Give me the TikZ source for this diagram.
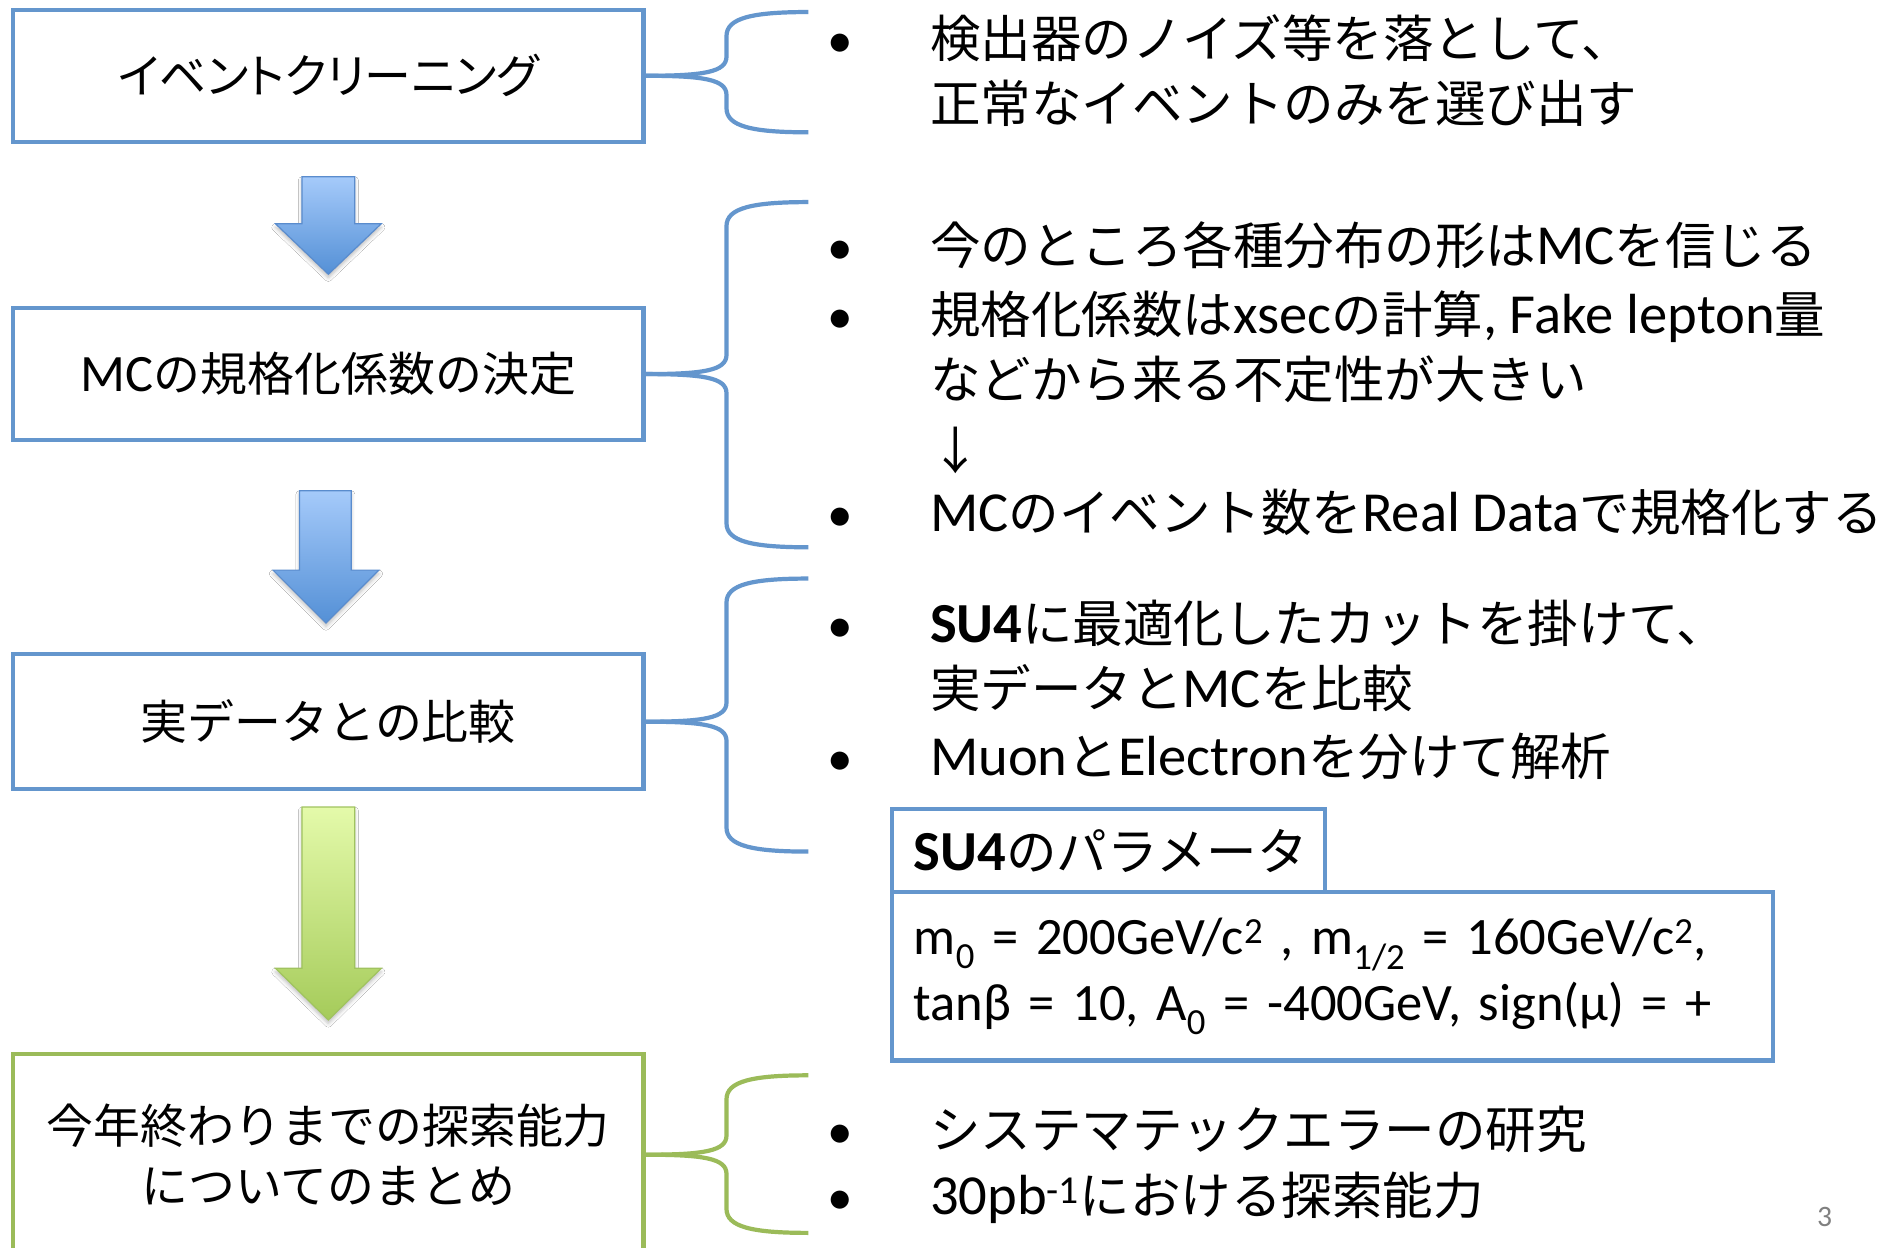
\documentclass[tikz,border=0pt]{standalone}
\usepackage{fontspec}
\setmainfont{Noto Sans CJK JP}
\newfontfamily\cjkp[RawFeature=+palt]{Noto Sans CJK JP}
\newfontfamily\lt[Scale=1.12]{Carlito}
\usetikzlibrary{shadows.blur}
\definecolor{bl}{RGB}{100,150,205}
\definecolor{gr}{RGB}{155,187,89}
\definecolor{arTop}{RGB}{165,202,250}
\definecolor{arBot}{RGB}{84,144,214}
\definecolor{arEdge}{RGB}{90,140,205}
\definecolor{grTop}{RGB}{228,250,170}
\definecolor{grBot}{RGB}{165,203,90}
\definecolor{grEdge}{RGB}{160,195,95}
\tikzset{
  box/.style={draw=bl, line width=3.5pt, minimum width=524pt, minimum height=110pt, inner sep=0pt, font=\fontsize{39}{50}\selectfont},
  txt/.style={anchor=west, inner sep=0pt, text height=36pt, text depth=6pt, font=\fontsize{42}{54}\selectfont},
  bul/.style={txt, font=\lt\fontsize{38}{54}\selectfont},
  pbox/.style={draw=bl, line width=3.5pt, anchor=north west, inner xsep=18pt, inner ysep=0pt, align=left},
  brc/.style={line width=3.5pt},
  blarrow/.style={top color=arTop, bottom color=arBot, draw=arEdge, line width=1pt,
     blur shadow={shadow blur radius=3pt, shadow xshift=0pt, shadow yshift=-3pt, shadow opacity=25}},
  grarrow/.style={top color=grTop, bottom color=grBot, draw=grEdge, line width=1pt,
     blur shadow={shadow blur radius=3pt, shadow xshift=0pt, shadow yshift=-3pt, shadow opacity=25}}
}
\newcommand\brc[5]{%
  \draw[brc, #5] (#1.east) .. controls (585,#2) and (604,#2-3) .. (604,#2-16) -- (604,#3+20) .. controls (604,#3+5) and (625,#3) .. (672,#3);
  \draw[brc, #5] (#1.east) .. controls (585,#2) and (604,#2+3) .. (604,#2+16) -- (604,#4-20) .. controls (604,#4-5) and (625,#4) .. (672,#4);}
\begin{document}
\begin{tikzpicture}[x=1pt,y=-1pt]
\useasboundingbox[fill=white] (0,0) rectangle (1568,1037);
\clip (0,0) rectangle (1568,1037);
% left column boxes
\node[box] (b1) at (273,63) {\cjkp イベントクリーニング};
\node[box] (b2) at (273,311) {{\lt MC}の規格化係数の決定};
\node[box, minimum height=112pt] (b3) at (273,600) {実データとの比較};
\node[box, draw=gr, minimum height=168pt, align=center] (b4) at (273,960) {今年終わりまでの探索能力\\についてのまとめ};
% block arrows
\shade[blarrow] (251,147) -- (295,147) -- (295,186) -- (317,186) -- (273,228) -- (229,186) -- (251,186) -- cycle;
\shade[blarrow] (249,408) -- (292,408) -- (292,474) -- (315,474) -- (271,518) -- (227,474) -- (249,474) -- cycle;
\shade[grarrow] (251,671) -- (295,671) -- (295,805) -- (317,805) -- (273,848) -- (229,805) -- (251,805) -- cycle;
% braces
\brc{b1}{63}{10}{110}{bl}
\brc{b2}{311}{168}{455}{bl}
\brc{b3}{600}{481}{708}{bl}
\brc{b4}{960}{894}{1025}{gr}
% right text
\node[bul] (u1) at (688,33) {•};
\node[txt] (t1) at (773,33) {検出器のノイズ等を落として、};
\node[txt] (t2) at (773,87) {正常なイベントのみを選び出す};
\node[bul] (u2) at (688,205) {•};
\node[txt] (t3) at (773,205) {今のところ各種分布の形は{\lt MC}を信じる};
\node[bul] (u3) at (688,262) {•};
\node[txt] (t4) at (773,262) {規格化係数は{\lt xsec}の計算{\lt , Fake lepton}量};
\node[txt] (t5) at (773,316) {などから来る不定性が大きい};
\node[txt] (t6) at (773,375) {↓};
\node[bul] (u4) at (688,427) {•};
\node[txt] (t7) at (773,427) {{\lt MC}のイベント数を{\lt Real Data}で規格化する};
\node[bul] (u5) at (688,519) {•};
\node[txt] (t8) at (773,519) {{\lt\bfseries SU4}に最適化したカットを掛けて、};
\node[txt] (t9) at (773,573) {実データと{\lt MC}を比較};
\node[bul] (u6) at (688,630) {•};
\node[txt] (t10) at (773,630) {{\lt Muon}と{\lt Electron}を分けて解析};
% parameter boxes
\node[pbox, text width=324pt, minimum height=69pt, font=\fontsize{42}{54}\selectfont] (tab) at (740,671) {{\lt\bfseries SU4}のパラメータ};
\node[pbox, text width=696pt, minimum height=140pt, font=\lt\fontsize{39}{55}\selectfont] (par) at (740,740)
  {m\textsubscript{0} = 200GeV/c\textsuperscript{2} , m\textsubscript{1/2} = 160GeV/c\textsuperscript{2},\\
   tanβ = 10, A\textsubscript{0} = -400GeV, sign(μ) = +};
\node[bul] (u7) at (688,940) {•};
\node[txt] (t11) at (773,940) {システマテックエラーの研究};
\node[bul] (u8) at (688,995) {•};
\node[txt] (t12) at (773,995) {{\lt 30pb\textsuperscript{-1}}における探索能力};
\node[font=\lt\fontsize{22}{28}\selectfont, text=black!50, inner sep=0pt] (pg) at (1517,1012) {3};
\end{tikzpicture}
\end{document}
